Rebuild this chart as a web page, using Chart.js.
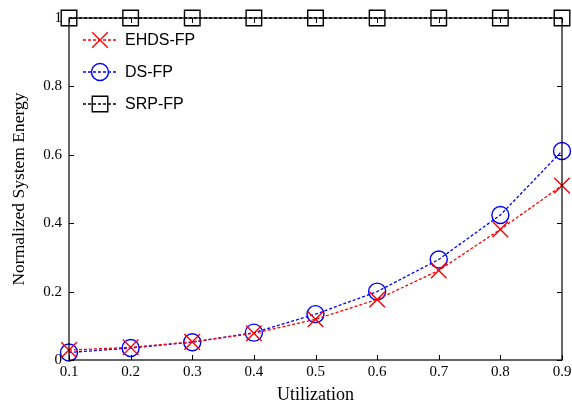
<!DOCTYPE html>
<html>
<head>
<meta charset="utf-8">
<script src="https://cdn.jsdelivr.net/npm/chart.js@4/dist/chart.umd.min.js"></script>
<style>
  html, body { margin: 0; padding: 0; background: #fff; }
  #wrap { width: 572px; height: 406px; }
</style>
</head>
<body>
<div id="wrap"><canvas id="c"></canvas></div>
<script>
// values
const utilization = [0.1, 0.2, 0.3, 0.4, 0.5, 0.6, 0.7, 0.8, 0.9];
const ehdsFP = [0.029, 0.037, 0.053, 0.078, 0.119, 0.177, 0.262, 0.382, 0.510];
const dsFP   = [0.022, 0.035, 0.052, 0.080, 0.134, 0.200, 0.294, 0.424, 0.611];
const srpFP  = [1, 1, 1, 1, 1, 1, 1, 1, 1];
const yTicks = [0, 0.2, 0.4, 0.6, 0.8, 1];

const serif = '"Liberation Serif", "Times New Roman", serif';
const sans = '"Liberation Sans", Arial, sans-serif';

function toPoints(arr) {
  return arr.map((v, i) => ({ x: utilization[i], y: v }));
}

// box + inward tick marks
const boxTicks = {
  id: 'boxTicks',
  afterDraw(chart) {
    const { ctx, chartArea: a, scales } = chart;
    ctx.save();
    ctx.strokeStyle = '#000';
    ctx.lineWidth = 1.2;
    ctx.strokeRect(a.left, a.top, a.right - a.left, a.bottom - a.top);
    ctx.lineWidth = 1;
    const len = 5;
    ctx.beginPath();
    utilization.forEach(v => {
      const x = Math.round(scales.x.getPixelForValue(v)) + 0.5;
      ctx.moveTo(x, a.bottom); ctx.lineTo(x, a.bottom - len);
      ctx.moveTo(x, a.top); ctx.lineTo(x, a.top + len);
    });
    yTicks.forEach(v => {
      const y = Math.round(scales.y.getPixelForValue(v)) + 0.5;
      ctx.moveTo(a.left, y); ctx.lineTo(a.left + len, y);
      ctx.moveTo(a.right, y); ctx.lineTo(a.right - len, y);
    });
    ctx.stroke();
    ctx.restore();
  }
};

// legend inside the plot, top-left
const innerLegend = {
  id: 'innerLegend',
  afterDatasetsDraw(chart) {
    const { ctx } = chart;
    const rows = [40, 72, 104];
    ctx.save();
    chart.data.datasets.forEach((ds, i) => {
      const y = rows[i];
      ctx.strokeStyle = ds.borderColor;
      ctx.lineWidth = ds.borderWidth;
      ctx.setLineDash(ds.borderDash);
      ctx.beginPath();
      ctx.moveTo(83, y); ctx.lineTo(117, y);
      ctx.stroke();
      ctx.setLineDash([]);
      ctx.fillStyle = 'rgba(0,0,0,0)';
      ctx.lineWidth = ds.pointBorderWidth;
      Chart.helpers.drawPoint(ctx, {
        pointStyle: ds.pointStyle,
        radius: ds.pointRadius,
        rotation: 0,
        borderWidth: ds.pointBorderWidth
      }, 100, y);
      ctx.fillStyle = '#000';
      ctx.font = '16px ' + sans;
      ctx.textBaseline = 'middle';
      ctx.textAlign = 'left';
      ctx.fillText(ds.label, 125, y + 1);
    });
    ctx.restore();
  }
};

const config = {
  type: 'line',
  data: {
    datasets: [
      {
        label: 'EHDS-FP',
        data: toPoints(ehdsFP),
        borderColor: '#ff0000',
        backgroundColor: 'transparent',
        borderWidth: 1.3,
        borderDash: [3, 2],
        pointStyle: 'crossRot',
        pointRadius: 11,
        pointBorderWidth: 1.4,
        pointBorderColor: '#ff0000',
        clip: false,
        order: 1
      },
      {
        label: 'DS-FP',
        data: toPoints(dsFP),
        borderColor: '#0000ff',
        backgroundColor: 'transparent',
        borderWidth: 1.3,
        borderDash: [3, 2],
        pointStyle: 'circle',
        pointRadius: 8.5,
        pointBorderWidth: 1.4,
        pointBorderColor: '#0000ff',
        pointBackgroundColor: 'transparent',
        clip: false,
        order: 2
      },
      {
        label: 'SRP-FP',
        data: toPoints(srpFP),
        borderColor: '#000000',
        backgroundColor: 'transparent',
        borderWidth: 1.3,
        borderDash: [3, 2],
        pointStyle: 'rect',
        pointRadius: 11,
        pointBorderWidth: 1.4,
        pointBorderColor: '#000000',
        pointBackgroundColor: 'transparent',
        clip: false,
        order: 3
      }
    ]
  },
  options: {
    responsive: true,
    maintainAspectRatio: false,
    animation: false,
    layout: { autoPadding: false, padding: { left: 9, right: 10, top: 18, bottom: 0 } },
    plugins: {
      legend: { display: false },
      tooltip: { enabled: false }
    },
    scales: {
      x: {
        type: 'linear',
        min: 0.1,
        max: 0.9,
        afterBuildTicks(scale) { scale.ticks = utilization.map(v => ({ value: v })); },
        afterFit(scale) {
          scale.height = 46;
          scale.paddingLeft = 0;
          scale.paddingRight = 0;
        },
        grid: { display: false, drawTicks: false },
        border: { display: false },
        ticks: {
          color: '#000',
          padding: 3,
          maxRotation: 0,
          autoSkip: false,
          font: { family: serif, size: 15 },
          callback: v => v.toFixed(1)
        },
        title: {
          display: true,
          text: 'Utilization',
          color: '#000',
          padding: { top: 2, bottom: 0 },
          font: { family: serif, size: 18 }
        }
      },
      y: {
        min: 0,
        max: 1,
        afterBuildTicks(scale) { scale.ticks = yTicks.map(v => ({ value: v })); },
        afterFit(scale) { scale.width = 60; },
        grid: { display: false, drawTicks: false },
        border: { display: false },
        ticks: {
          color: '#000',
          padding: 7,
          font: { family: serif, size: 15 },
          callback: v => (v === 0 || v === 1) ? String(v) : v.toFixed(1)
        },
        title: {
          display: true,
          text: 'Normalized System Energy',
          color: '#000',
          padding: { top: 0, bottom: 0 },
          font: { family: serif, size: 17.5 }
        }
      }
    }
  },
  plugins: [boxTicks, innerLegend]
};

new Chart(document.getElementById('c'), config);
</script>
</body>
</html>
